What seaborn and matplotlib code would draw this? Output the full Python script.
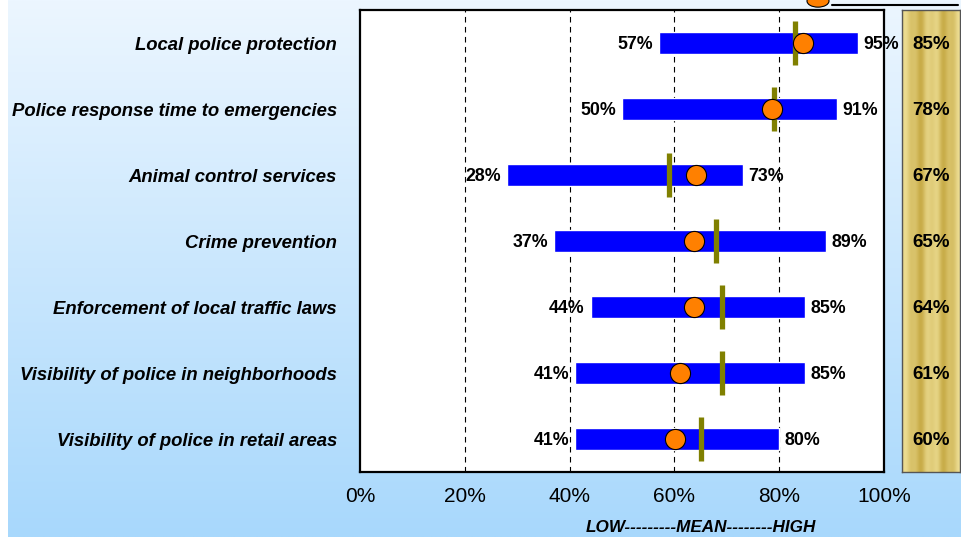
import numpy as np
import pandas as pd
import matplotlib
matplotlib.use("Agg")
import matplotlib.pyplot as plt
import seaborn as sns
from matplotlib.patches import Circle

# ---- data ----
services = [
    "Local police protection",
    "Police response time to emergencies",
    "Animal control services",
    "Crime prevention",
    "Enforcement of local traffic laws",
    "Visibility of police in neighborhoods",
    "Visibility of police in retail areas",
]
low_pct = [57, 50, 28, 37, 44, 41, 41]
high_pct = [95, 91, 73, 89, 85, 85, 80]
mean_pct = [84.5, 78.7, 64.2, 63.7, 63.7, 61.0, 60.2]
benchmark_pct = [83, 79, 59, 68, 69, 69, 65]
overall_pct = [85, 78, 67, 65, 64, 61, 60]
x_ticks = [0, 20, 40, 60, 80, 100]
x_ticklabels = ["0%", "20%", "40%", "60%", "80%", "100%"]

df = pd.DataFrame({
    "service": services,
    "low": low_pct,
    "high": high_pct,
    "mean": mean_pct,
    "bench": benchmark_pct,
    "overall": overall_pct,
})
df["pos"] = np.arange(len(df))

sns.set_theme(style="white")
plt.rcParams["font.family"] = ["Liberation Sans", "DejaVu Sans"]
for key in ("text.color", "axes.labelcolor", "xtick.color", "ytick.color"):
    plt.rcParams[key] = "black"

W, H = 961, 537
fig = plt.figure(figsize=(W / 100, H / 100), dpi=100)

# ---- background gradient ----
bg = fig.add_axes([0, 0, 1, 1], zorder=-10)
grad = np.linspace(0, 1, 256)[:, None]
top = np.array([236, 246, 255]) / 255
bot = np.array([168, 216, 252]) / 255
img = top[None, None, :] * (1 - grad[..., None]) + bot[None, None, :] * grad[..., None]
img = np.repeat(img, 4, axis=1)
bg.imshow(img, aspect="auto", extent=[8 / W, 1, 0, 1], origin="upper")
bg.set_xlim(0, 1)
bg.set_ylim(0, 1)
bg.axis("off")

# ---- main chart ----
ax = fig.add_axes([360 / W, (H - 472) / H, (884 - 360) / W, (472 - 10) / H])
ax.set_facecolor("white")

ax.barh(df["pos"], df["high"] - df["low"], left=df["low"], height=0.32,
        color="#0000FF", zorder=3)
ax.vlines(df["bench"], df["pos"] - 0.335, df["pos"] + 0.335,
          color="#808000", linewidth=3.8, zorder=4)
sns.scatterplot(data=df, x="mean", y="pos", ax=ax, s=210, color="#FF8000",
                edgecolor="black", linewidth=0.8, zorder=5, legend=False)

for _, r in df.iterrows():
    ax.text(r["low"] - 1.1, r["pos"] + 0.03, f"{r['low']}%", ha="right",
            va="center", fontsize=12.8, fontweight="bold", zorder=6)
    ax.text(r["high"] + 1.0, r["pos"] + 0.03, f"{r['high']}%", ha="left",
            va="center", fontsize=12.8, fontweight="bold", zorder=6, clip_on=False)

ax.set_xlim(0, 100)
ax.set_ylim(len(df) - 0.5, -0.5)
ax.set_xticks(x_ticks)
ax.set_xticklabels(x_ticklabels, fontsize=15)
ax.set_yticks(df["pos"])
ax.set_yticklabels(df["service"], fontsize=13.3, fontweight="bold", style="italic")
ax.set_ylabel("")
ax.tick_params(axis="y", length=0, pad=16.5)
ax.tick_params(axis="x", length=0, pad=11)
for x in x_ticks[1:-1]:
    ax.axvline(x, color="black", linestyle=(0, (5, 4)), linewidth=0.8, zorder=1)
for sp in ax.spines.values():
    sp.set_color("black")
    sp.set_linewidth(1.6)
ax.set_xlabel("LOW---------MEAN--------HIGH", fontsize=12.3, fontweight="bold",
              style="italic")
ax.xaxis.label.set_va("center")
ax.xaxis.set_label_coords((701 - 360) / (884 - 360), -55 / 462)

# ---- gold column with overall values ----
gx = fig.add_axes([902 / W, (H - 472) / H, (960 - 902) / W, (472 - 10) / H])
cols = np.linspace(0, 1, 200)
stripe = (0.55 + 0.25 * np.sin(cols * 2 * np.pi * 2.2 + 0.6)
          + 0.12 * np.sin(cols * 2 * np.pi * 5.3))
stripe = (stripe - stripe.min()) / (stripe.max() - stripe.min())
dark = np.array([200, 172, 72]) / 255
light = np.array([236, 220, 145]) / 255
gold = dark[None, :] * (1 - stripe[:, None]) + light[None, :] * stripe[:, None]
gold_img = np.repeat(gold[None, :, :], 50, axis=0)
gx.imshow(gold_img, aspect="auto", extent=[0, 1, len(df) - 0.5, -0.5])
gx.set_xlim(0, 1)
gx.set_ylim(len(df) - 0.5, -0.5)
for _, r in df.iterrows():
    gx.text(0.5, r["pos"] + 0.03, f"{r['overall']}%", ha="center", va="center",
            fontsize=13.5, fontweight="bold")
gx.set_xticks([])
gx.set_yticks([])
for sp in gx.spines.values():
    sp.set_color("#555555")
    sp.set_linewidth(1.0)

# ---- legend fragment at the top edge ----
fig.add_artist(Circle((818 / W, 1.0 - 1 / H), 11 / W, transform=fig.transFigure,
                      facecolor="#FF8000", edgecolor="black", linewidth=0.8))
fig.add_artist(plt.Line2D([832 / W, 958 / W], [1 - 5 / H, 1 - 5 / H],
                          color="black", linewidth=1.5, transform=fig.transFigure))

fig.savefig("out.png", dpi=100)
